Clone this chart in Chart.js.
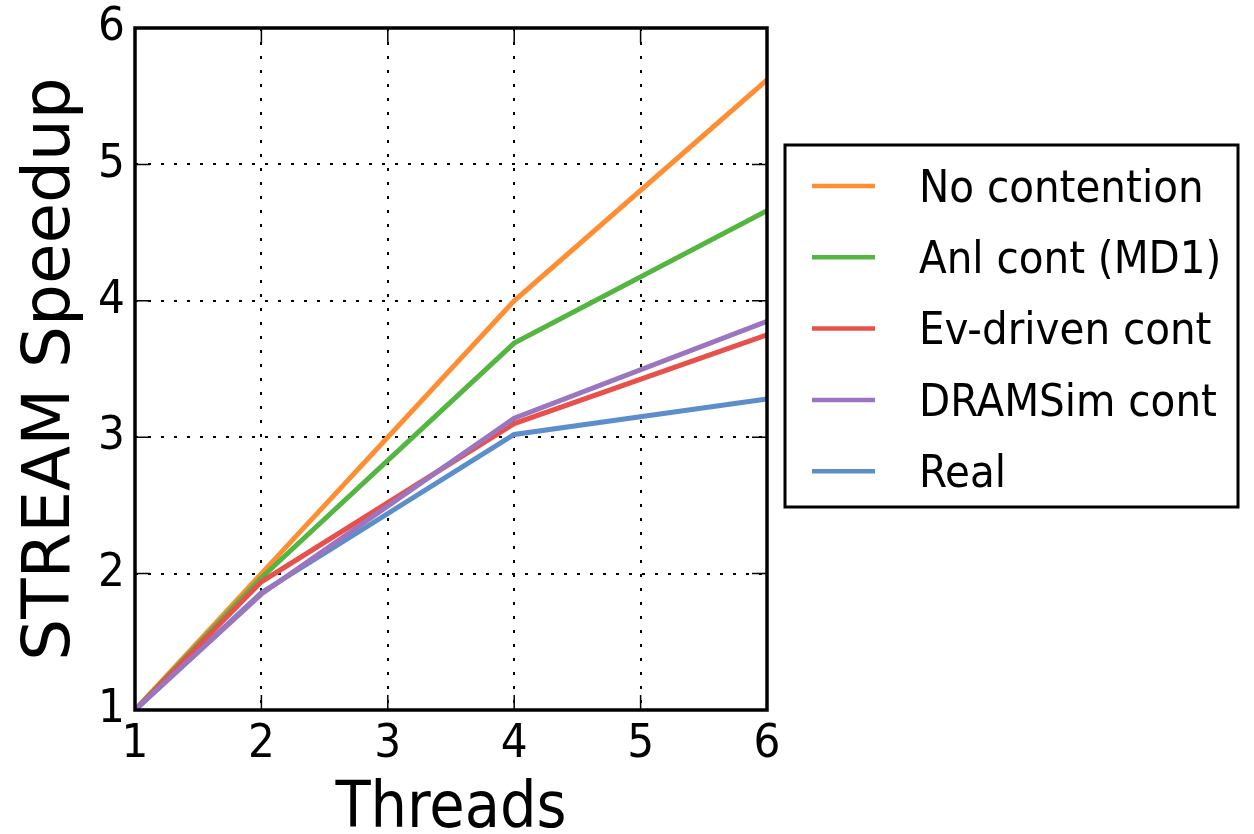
<!DOCTYPE html>
<html>
<head>
<meta charset="utf-8">
<script src="https://cdn.jsdelivr.net/npm/chart.js@4"></script>
<style>
  html, body { margin: 0; padding: 0; background: #fff; }
  #wrap { width: 1254px; height: 834px; }
</style>
</head>
<body>
<div id="wrap"><canvas id="speedupChart" width="1254" height="834"></canvas></div>
<script>
// data
const threads = [1, 2, 4, 6];
const noContention = [1.0, 2.0, 4.0, 5.62];
const anlCont = [1.0, 1.97, 3.69, 4.66];
const evDriven = [1.0, 1.94, 3.10, 3.75];
const dramsim = [1.0, 1.85, 3.14, 3.85];
const real = [1.0, 1.86, 3.02, 3.28];
const seriesNames = ['No contention', 'Anl cont (MD1)', 'Ev-driven cont', 'DRAMSim cont', 'Real'];
const xTicks = [1, 2, 3, 4, 5, 6];
const yTicks = [1, 2, 3, 4, 5, 6];

const colors = ['#ff8e33', '#54b640', '#e8504b', '#9b76be', '#5c8ecc'];
const zOrder = [4, 3, 2, 1, 5]; // purple on top, real at the bottom

const condensed = '"DejaVu Sans Condensed", "DejaVu Sans", sans-serif';

function pts(ys) {
    return threads.map((t, i) => ({ x: t, y: ys[i] }));
}

const allSeries = [noContention, anlCont, evDriven, dramsim, real];
const datasets = allSeries.map((ys, i) => ({
    label: seriesNames[i],
    data: pts(ys),
    borderColor: colors[i],
    backgroundColor: colors[i],
    borderWidth: 5,
    pointRadius: 0,
    tension: 0,
    order: zOrder[i]
}));

// frame, inner tick marks and the boxed legend
const framePlugin = {
    id: 'frame',
    afterDatasetsDraw(chart) {
        const { ctx, chartArea: a, scales } = chart;
        ctx.save();
        ctx.strokeStyle = '#000';
        ctx.lineWidth = 1.5;
        const tl = 15;
        xTicks.forEach(v => {
            const px = scales.x.getPixelForValue(v);
            ctx.beginPath();
            ctx.moveTo(px, a.bottom); ctx.lineTo(px, a.bottom - tl);
            ctx.moveTo(px, a.top); ctx.lineTo(px, a.top + tl);
            ctx.stroke();
        });
        yTicks.forEach(v => {
            const py = scales.y.getPixelForValue(v);
            ctx.beginPath();
            ctx.moveTo(a.left, py); ctx.lineTo(a.left + tl, py);
            ctx.moveTo(a.right, py); ctx.lineTo(a.right - tl, py);
            ctx.stroke();
        });
        ctx.lineWidth = 3.5;
        ctx.strokeRect(a.left, a.top, a.right - a.left, a.bottom - a.top);

        // legend
        const lx = 785, ly = 145, lw = 453, lh = 362;
        ctx.fillStyle = '#fff';
        ctx.fillRect(lx, ly, lw, lh);
        ctx.lineWidth = 3;
        ctx.strokeRect(lx, ly, lw, lh);
        ctx.font = '45px ' + condensed;
        ctx.textBaseline = 'middle';
        ctx.textAlign = 'left';
        chart.data.datasets.forEach((ds, i) => {
            const y = 186 + i * 71.3;
            ctx.strokeStyle = ds.borderColor;
            ctx.lineWidth = 4.5;
            ctx.beginPath();
            ctx.moveTo(812, y); ctx.lineTo(875, y);
            ctx.stroke();
            ctx.fillStyle = '#000';
            ctx.fillText(ds.label, 919, y + 4);
        });
        ctx.restore();
    }
};

window.addEventListener('load', () => {
    const ctx = document.getElementById('speedupChart').getContext('2d');
    new Chart(ctx, {
        type: 'line',
        data: { datasets: datasets },
        plugins: [framePlugin],
        options: {
            responsive: false,
            animation: false,
            layout: { padding: { left: 0, top: 28, right: 487, bottom: 0 } },
            plugins: {
                legend: { display: false },
                tooltip: { enabled: false }
            },
            scales: {
                x: {
                    type: 'linear',
                    min: 1,
                    max: 6,
                    afterFit(scale) {
                        scale.height = 124;
                        scale.paddingLeft = 0;
                        scale.paddingRight = 0;
                    },
                    afterBuildTicks(scale) { scale.ticks = xTicks.map(v => ({ value: v })); },
                    ticks: {
                        color: '#000',
                        padding: 7,
                        maxRotation: 0,
                        font: { family: condensed, size: 47 }
                    },
                    grid: { color: '#000', lineWidth: 2, drawTicks: false },
                    border: { display: false, dash: [3, 11] },
                    title: {
                        display: true,
                        text: 'Threads',
                        color: '#000',
                        font: { family: condensed, size: 64, lineHeight: 0.75 },
                        padding: { top: 0, bottom: 0 }
                    }
                },
                y: {
                    type: 'linear',
                    min: 1,
                    max: 6,
                    afterFit(scale) {
                        scale.width = 135;
                        scale.paddingTop = 0;
                        scale.paddingBottom = 0;
                    },
                    afterBuildTicks(scale) { scale.ticks = yTicks.map(v => ({ value: v })); },
                    ticks: {
                        color: '#000',
                        padding: 10,
                        font: { family: condensed, size: 47 }
                    },
                    grid: { color: '#000', lineWidth: 2, drawTicks: false },
                    border: { display: false, dash: [3, 10] },
                    title: {
                        display: true,
                        text: 'STREAM Speedup',
                        color: '#000',
                        font: { family: '"DejaVu Sans", sans-serif', size: 66, lineHeight: 1.2 },
                        padding: { top: 12, bottom: 0 }
                    }
                }
            }
        }
    });
});
</script>
</body>
</html>
